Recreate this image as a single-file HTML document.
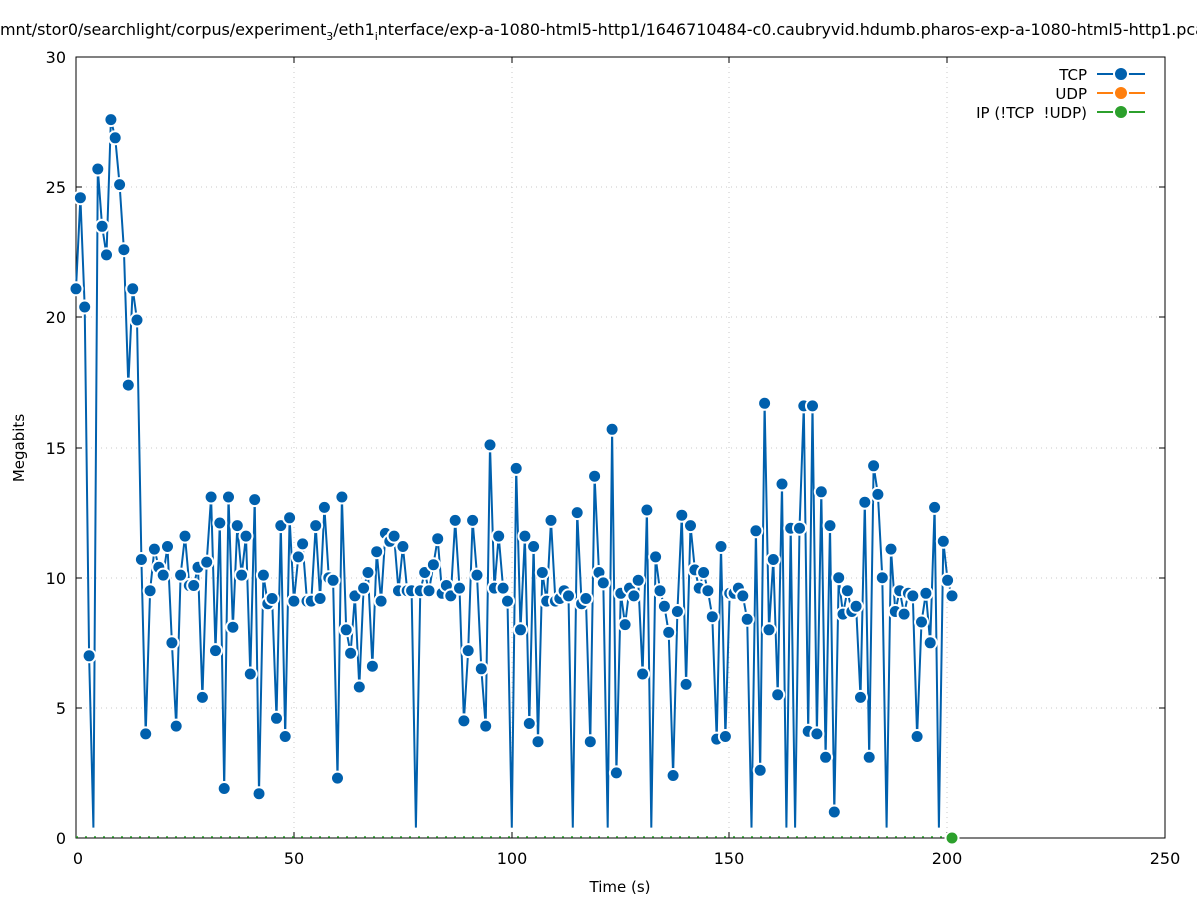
<!DOCTYPE html>
<html><head><meta charset="utf-8"><style>
body{margin:0;background:#fff}
svg{display:block;font-family:"DejaVu Sans","Liberation Sans",sans-serif}
</style></head><body>
<svg id="s" width="1197" height="900" viewBox="0 0 1197 900" xmlns="http://www.w3.org/2000/svg">
<rect width="1197" height="900" fill="#fff"/>
<g stroke="#c8c8c8" stroke-width="1" stroke-dasharray="1,4">
<line x1="76" y1="57" x2="1165" y2="57"/><line x1="76" y1="187" x2="1165" y2="187"/><line x1="76" y1="317" x2="1165" y2="317"/><line x1="76" y1="448" x2="1165" y2="448"/><line x1="76" y1="578" x2="1165" y2="578"/><line x1="76" y1="708" x2="1165" y2="708"/>
<line x1="294" y1="57" x2="294" y2="838"/><line x1="512" y1="57" x2="512" y2="838"/><line x1="729" y1="57" x2="729" y2="838"/><line x1="947" y1="57" x2="947" y2="838"/>
</g>
<rect x="76" y="57" width="1089" height="781" fill="none" stroke="#000" stroke-width="1"/>
<g stroke="#000" stroke-width="1">
<line x1="76" y1="187" x2="82" y2="187"/><line x1="76" y1="317" x2="82" y2="317"/><line x1="76" y1="448" x2="82" y2="448"/><line x1="76" y1="578" x2="82" y2="578"/><line x1="76" y1="708" x2="82" y2="708"/>
<line x1="1165" y1="187" x2="1159" y2="187"/><line x1="1165" y1="317" x2="1159" y2="317"/><line x1="1165" y1="448" x2="1159" y2="448"/><line x1="1165" y1="578" x2="1159" y2="578"/><line x1="1165" y1="708" x2="1159" y2="708"/>
<line x1="294" y1="838" x2="294" y2="832"/><line x1="512" y1="838" x2="512" y2="832"/><line x1="729" y1="838" x2="729" y2="832"/><line x1="947" y1="838" x2="947" y2="832"/>
<line x1="294" y1="57" x2="294" y2="63"/><line x1="512" y1="57" x2="512" y2="63"/><line x1="729" y1="57" x2="729" y2="63"/><line x1="947" y1="57" x2="947" y2="63"/>
</g>
<g font-size="16" fill="#000" text-anchor="end">
<text x="66" y="844">0</text><text x="66" y="714">5</text><text x="66" y="584">10</text><text x="66" y="454">15</text><text x="66" y="323">20</text><text x="66" y="193">25</text><text x="66" y="63">30</text>
</g>
<g font-size="16" fill="#000" text-anchor="middle">
<text x="78" y="864">0</text><text x="294" y="864">50</text><text x="512" y="864">100</text><text x="729" y="864">150</text><text x="947" y="864">200</text><text x="1165" y="864">250</text>
<text x="620" y="892" font-size="15">Time (s)</text>
</g>
<text x="24" y="448" font-size="15" text-anchor="middle" transform="rotate(-90 24 448)">Megabits</text>
<text x="0" y="35" font-size="16" textLength="1215" lengthAdjust="spacing">mnt/stor0/searchlight/corpus/experiment<tspan font-size="11" dy="5">3</tspan><tspan dy="-5">/eth1</tspan><tspan font-size="11" dy="5">i</tspan><tspan dy="-5">nterface/exp-a-1080-html5-http1/1646710484-c0.caubryvid.hdumb.pharos-exp-a-1080-html5-http1.pcap</tspan></text>
<g font-size="15" text-anchor="end">
<text x="1087" y="80">TCP</text><text x="1087" y="99">UDP</text><text x="1087" y="118" xml:space="preserve">IP (!TCP  !UDP)</text>
</g>
<g stroke-width="2">
<line x1="1097" y1="74" x2="1145" y2="74" stroke="#0060ad"/><line x1="1097" y1="93" x2="1145" y2="93" stroke="#ff7f0e"/><line x1="1097" y1="112" x2="1145" y2="112" stroke="#2ca02c"/>
</g>
<g stroke="#fff" stroke-width="2">
<circle cx="1121" cy="74" r="7" fill="#0060ad"/><circle cx="1121" cy="93" r="7" fill="#ff7f0e"/><circle cx="1121" cy="112" r="7" fill="#2ca02c"/>
</g>
<line x1="76" y1="837" x2="950" y2="837" stroke="#2ca02c" stroke-width="1.5" stroke-dasharray="2,7"/>
<g id="series"></g>
<circle cx="952" cy="838" r="6.5" fill="#2ca02c" stroke="#fff" stroke-width="2"/>
</svg>
<script>
var d=[21.1,24.6,20.4,7.0,0.4,25.7,23.5,22.4,27.6,26.9,25.1,22.6,17.4,21.1,19.9,10.7,4.0,9.5,11.1,10.4,10.1,11.2,7.5,4.3,10.1,11.6,9.7,9.7,10.4,5.4,10.6,13.1,7.2,12.1,1.9,13.1,8.1,12.0,10.1,11.6,6.3,13.0,1.7,10.1,9.0,9.2,4.6,12.0,3.9,12.3,9.1,10.8,11.3,9.1,9.1,12.0,9.2,12.7,10.0,9.9,2.3,13.1,8.0,7.1,9.3,5.8,9.6,10.2,6.6,11.0,9.1,11.7,11.4,11.6,9.5,11.2,9.5,9.5,0.4,9.5,10.2,9.5,10.5,11.5,9.4,9.7,9.3,12.2,9.6,4.5,7.2,12.2,10.1,6.5,4.3,15.1,9.6,11.6,9.6,9.1,0.4,14.2,8.0,11.6,4.4,11.2,3.7,10.2,9.1,12.2,9.1,9.2,9.5,9.3,0.4,12.5,9.0,9.2,3.7,13.9,10.2,9.8,0.4,15.7,2.5,9.4,8.2,9.6,9.3,9.9,6.3,12.6,0.4,10.8,9.5,8.9,7.9,2.4,8.7,12.4,5.9,12.0,10.3,9.6,10.2,9.5,8.5,3.8,11.2,3.9,9.4,9.4,9.6,9.3,8.4,0.4,11.8,2.6,16.7,8.0,10.7,5.5,13.6,0.4,11.9,0.4,11.9,16.6,4.1,16.6,4.0,13.3,3.1,12.0,1.0,10.0,8.6,9.5,8.7,8.9,5.4,12.9,3.1,14.3,13.2,10.0,0.4,11.1,8.7,9.5,8.6,9.4,9.3,3.9,8.3,9.4,7.5,12.7,0.4,11.4,9.9,9.3];
var n=d.length,sx=(952-76)/(n-1),ns="http://www.w3.org/2000/svg",g=document.getElementById("series");
var pts=d.map(function(v,i){return [76+i*sx,838-v*26.03];});
var pl=document.createElementNS(ns,"polyline");
pl.setAttribute("points",pts.map(function(p){return p[0].toFixed(1)+","+p[1].toFixed(1)}).join(" "));
pl.setAttribute("fill","none");pl.setAttribute("stroke","#0060ad");pl.setAttribute("stroke-width","2");
g.appendChild(pl);
pts.forEach(function(p,i){if(d[i]<0.5)return;var c=document.createElementNS(ns,"circle");
c.setAttribute("cx",p[0].toFixed(1));c.setAttribute("cy",p[1].toFixed(1));c.setAttribute("r","6.5");
c.setAttribute("fill","#0060ad");c.setAttribute("stroke","#fff");c.setAttribute("stroke-width","2");g.appendChild(c);});
</script>
</body></html>
